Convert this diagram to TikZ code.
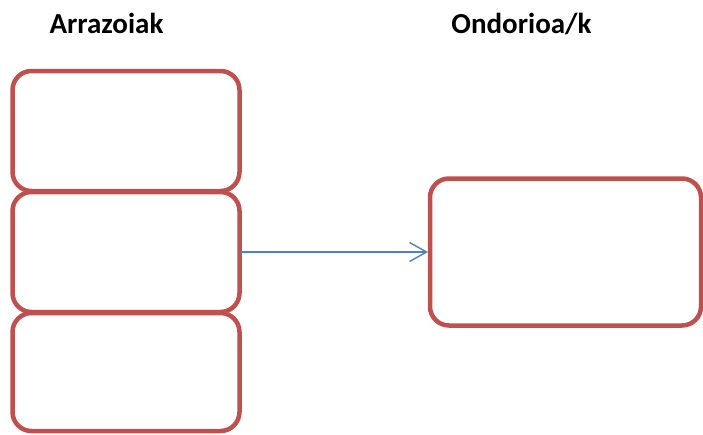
\documentclass[tikz,border=0pt]{standalone}
\usepackage{fontspec}
\setmainfont{Carlito}
\usetikzlibrary{arrows.meta}
\definecolor{boxred}{HTML}{C0504D}
\definecolor{arrowblue}{HTML}{4F81BD}
\tikzset{
  redbox/.style={draw=boxred, line width=4.5pt, rounded corners=19pt, fill=none,
    inner sep=0pt, outer sep=0pt},
  title/.style={font=\fontsize{29}{34}\selectfont\bfseries, anchor=base, inner sep=0pt},
  link/.style={draw=arrowblue, line width=1.4pt, -{Straight Barb[length=17pt,width=19pt,line width=1.4pt]}}
}
\begin{document}
\begin{tikzpicture}[x=1pt,y=-1pt]
\useasboundingbox (0,0) rectangle (703,434);
\node[title] (t1) at (106.5,33) {Arrazoiak};
\node[title] (t2) at (521.5,33) {Ondorioa/k};
\node[redbox, minimum width=227pt, minimum height=120pt] (b1) at (126,131) {};
\node[redbox, minimum width=227pt, minimum height=120pt] (b2) at (126,252) {};
\node[redbox, minimum width=227pt, minimum height=118pt] (b3) at (126,372) {};
\node[redbox, minimum width=271pt, minimum height=147pt] (r) at (565.5,252) {};
\draw[link] (b2.east) -- ([xshift=-2pt]r.west);
\end{tikzpicture}
\end{document}
